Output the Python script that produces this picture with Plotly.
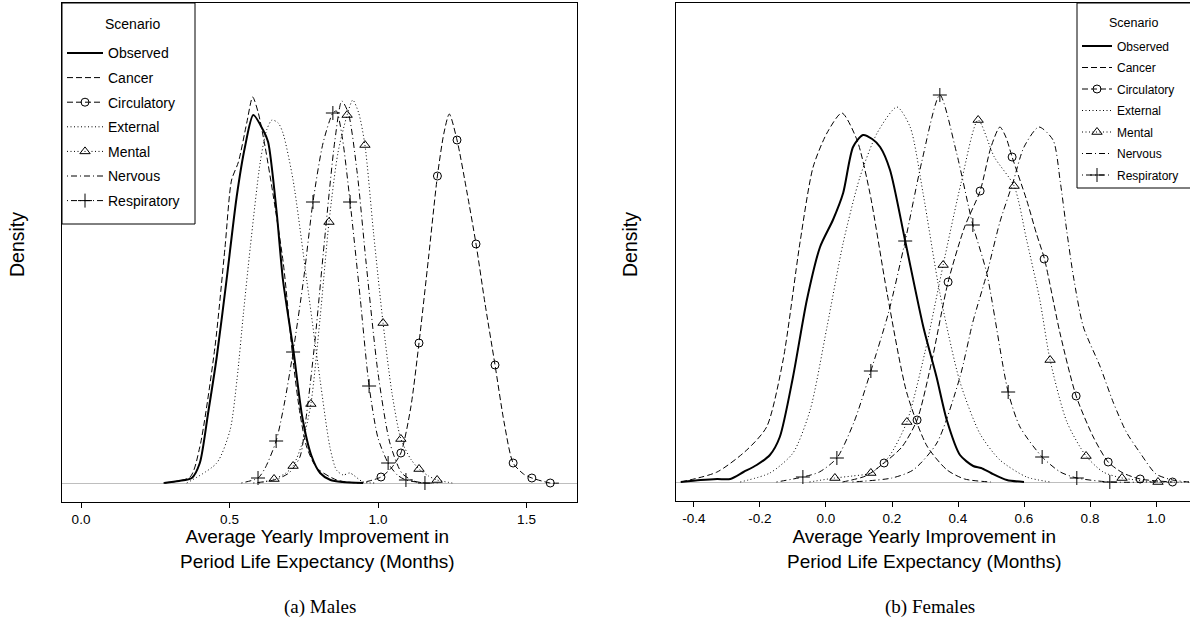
import plotly.graph_objects as go

# ---------------- DATA ----------------
scenarios = ["Observed", "Cancer", "Circulatory", "External", "Mental", "Nervous", "Respiratory"]
legend_title = "Scenario"

# Males
m_obs_x = [0.28, 0.33, 0.373, 0.40, 0.428, 0.457, 0.49, 0.524, 0.552, 0.58, 0.613, 0.63, 0.659, 0.68, 0.715, 0.745, 0.775, 0.805, 0.84, 0.88, 0.95]
m_obs_y = [0, .02, .05, .20, .70, 1.26, 2.03, 2.86, 3.36, 3.68, 3.53, 3.41, 2.70, 2.03, 1.33, .66, .28, .10, .03, .01, 0]
m_can_x = [0.277, 0.367, 0.40, 0.451, 0.485, 0.507, 0.53, 0.558, 0.578, 0.597, 0.62, 0.648, 0.681, 0.715, 0.737, 0.76, 0.794, 0.861, 0.928]
m_can_y = [0, .06, .36, 1.36, 2.36, 3.03, 3.21, 3.60, 3.86, 3.70, 3.36, 2.86, 2.20, 1.20, .70, .36, .15, .03, 0]
m_cir_x = [.93, .97, 1.01, 1.045, 1.077, 1.11, 1.138, 1.17, 1.2, 1.222, 1.24, 1.266, 1.3, 1.33, 1.36, 1.394, 1.425, 1.455, 1.49, 1.518, 1.58, 1.62]
m_cir_y = [0, .02, .06, .15, .30, .75, 1.40, 2.25, 3.07, 3.50, 3.69, 3.43, 2.90, 2.39, 1.80, 1.18, .60, .20, .09, .05, 0, 0]
m_cir_mx = [1.01, 1.077, 1.138, 1.2, 1.266, 1.33, 1.394, 1.455, 1.518, 1.58]
m_cir_my = [.06, .30, 1.40, 3.07, 3.43, 2.39, 1.18, .20, .05, 0]
m_ext_x = [0.356, 0.457, 0.502, 0.525, 0.547, 0.57, 0.603, 0.625, 0.643, 0.664, 0.68, 0.714, 0.76, 0.805, 0.838, 0.86, 0.883, 0.905, 0.95, 0.995]
m_ext_y = [0, .20, .53, 1.03, 1.70, 2.36, 3.20, 3.53, 3.63, 3.60, 3.50, 3.03, 2.03, 1.03, .36, .13, .08, .10, .01, 0]
m_men_x = [.6, .65, .69, .714, .745, .774, .805, .835, .865, .896, .915, .935, .956, .985, 1.017, 1.047, 1.077, 1.11, 1.138, 1.17, 1.199, 1.25]
m_men_y = [0, .04, .10, .17, .40, .79, 1.65, 2.61, 3.30, 3.68, 3.83, 3.70, 3.38, 2.50, 1.60, .90, .44, .24, .14, .07, .03, 0]
m_men_mx = [.65, .714, .774, .835, .896, .956, 1.017, 1.077, 1.138, 1.199]
m_men_my = [.04, .17, .79, 2.61, 3.68, 3.38, 1.60, .44, .14, .03]
m_ner_x = [.58, .65, .70, .737, .76, .788, .82, .855, .878, .90, .93, .96, 1.0, 1.04, 1.08, 1.12, 1.16]
m_ner_y = [0, .03, .10, .26, .70, 1.43, 2.43, 3.43, 3.82, 3.70, 3.10, 2.20, 1.10, .40, .10, .02, 0]
m_res_x = [.54, .596, .62, .657, .685, .714, .75, .781, .815, .848, .86, .88, .906, .94, .97, 1.0, 1.034, 1.065, 1.094, 1.158, 1.2]
m_res_y = [0, .05, .15, .42, .80, 1.31, 2.05, 2.81, 3.40, 3.70, 3.72, 3.45, 2.81, 1.85, .97, .45, .20, .08, .03, 0, 0]
m_res_mx = [.596, .657, .714, .781, .848, .906, .97, 1.034, 1.094, 1.158]
m_res_my = [.05, .42, 1.31, 2.81, 3.70, 2.81, .97, .20, .03, 0]

# Females
f_obs_x = [-0.44, -0.38, -0.33, -0.29, -0.25, -0.21, -0.17, -0.14, -0.1, -0.058, -0.018, 0.021, 0.052, 0.082, 0.112, 0.14, 0.164, 0.194, 0.24, 0.295, 0.335, 0.366, 0.406, 0.446, 0.47, 0.5, 0.548, 0.6]
f_obs_y = [0, .02, .03, .03, .10, .17, .27, .45, 1.05, 1.82, 2.35, 2.62, 2.89, 3.35, 3.47, 3.43, 3.35, 3.12, 2.41, 1.55, 1.05, .62, .27, .16, .14, .09, .02, 0]
f_can_x = [-0.44, -0.33, -0.24, -0.18, -0.13, -0.079, -0.039, 0.003, 0.048, 0.094, 0.133, 0.185, 0.245, 0.306, 0.367, 0.42, 0.5]
f_can_y = [0, .10, .32, .55, 1.22, 2.39, 3.15, 3.49, 3.69, 3.42, 2.89, 1.89, .89, .36, .12, .03, 0]
f_cir_x = [.05, .12, .176, .23, .276, .32, .37, .42, .467, .5, .527, .545, .564, .608, .638, .662, .709, .758, .81, .855, .9, .952, 1.05]
f_cir_y = [0, .06, .19, .35, .62, 1.20, 2.00, 2.55, 2.91, 3.35, 3.55, 3.45, 3.25, 2.82, 2.48, 2.23, 1.49, .86, .45, .20, .09, .03, 0]
f_cir_mx = [.176, .276, .37, .467, .564, .661, .758, .855, .952, 1.05]
f_cir_my = [.19, .62, 2.00, 2.91, 3.25, 2.23, .86, .20, .03, 0]
f_ext_x = [-0.26, -0.17, -0.1, -0.048, 0.003, 0.052, 0.103, 0.155, 0.215, 0.255, 0.294, 0.345, 0.406, 0.467, 0.527, 0.608, 0.68]
f_ext_y = [0, .09, .29, .72, 1.55, 2.39, 3.05, 3.49, 3.75, 3.55, 2.89, 1.89, 1.00, .48, .22, .05, 0]
f_men_x = [-0.05, .027, .08, .136, .19, .245, .3, .355, .41, .461, .51, .57, .608, .648, .679, .73, .788, .84, .897, 1.006, 1.1]
f_men_y = [0, .04, .06, .09, .25, .60, 1.30, 2.17, 3.00, 3.62, 3.25, 2.96, 2.42, 1.82, 1.22, .60, .26, .10, .04, 0, 0]
f_men_mx = [.027, .136, .245, .355, .461, .57, .679, .788, .897, 1.006]
f_men_my = [.04, .09, .60, 2.17, 3.62, 2.96, 1.22, .26, .04, 0]
f_ner_x = [.08, .2, .264, .336, .406, .445, .488, .527, .567, .6, .645, .688, .71, .73, .75, .78, .83, .87, .91, .952, 1.0, 1.05, 1.1]
f_ner_y = [0, .04, .12, .39, 1.05, 1.60, 2.09, 2.60, 3.00, 3.35, 3.55, 3.42, 3.00, 2.50, 2.05, 1.55, 1.16, .80, .50, .29, .08, .02, 0]
f_res_x = [-0.15, -0.07, -0.02, .033, .085, .136, .19, .24, .29, .345, .395, .445, .487, .552, .588, .655, .71, .76, .86, 1.0]
f_res_y = [0, .05, .10, .24, .60, 1.11, 1.70, 2.41, 3.20, 3.87, 3.30, 2.57, 2.09, .90, .55, .25, .10, .04, 0, 0]
f_res_mx = [-0.07, .033, .136, .24, .345, .445, .552, .655, .76, .86]
f_res_my = [.05, .24, 1.11, 2.41, 3.87, 2.57, .90, .25, .04, 0]

m_ticks = [0.0, 0.5, 1.0, 1.5]
m_ticktext = ["0.0", "0.5", "1.0", "1.5"]
f_ticks = [-0.4, -0.2, 0.0, 0.2, 0.4, 0.6, 0.8, 1.0]
f_ticktext = ["-0.4", "-0.2", "0.0", "0.2", "0.4", "0.6", "0.8", "1.0"]

# ---------------- STYLE ----------------
W, H = 1190, 633
SANS = "Liberation Sans, Arial, sans-serif"
SERIF = "Liberation Serif, Times New Roman, serif"
DASHED = "6px,3px"
DOTTED = "1px,2.5px"
DOTDASH = "1px,3px,6px,3px"

style = {
    "Observed":    dict(dash="solid", width=2, symbol=None, size=0),
    "Cancer":      dict(dash=DASHED, width=1, symbol=None, size=0),
    "Circulatory": dict(dash=DASHED, width=1, symbol="circle-open", size=8),
    "External":    dict(dash=DOTTED, width=1, symbol=None, size=0),
    "Mental":      dict(dash=DOTTED, width=1, symbol="triangle-up-open", size=9),
    "Nervous":     dict(dash=DOTDASH, width=1, symbol=None, size=0),
    "Respiratory": dict(dash=DOTDASH, width=1, symbol="cross-thin-open", size=10),
}

males = {
    "Observed": (m_obs_x, m_obs_y, None, None),
    "Cancer": (m_can_x, m_can_y, None, None),
    "Circulatory": (m_cir_x, m_cir_y, m_cir_mx, m_cir_my),
    "External": (m_ext_x, m_ext_y, None, None),
    "Mental": (m_men_x, m_men_y, m_men_mx, m_men_my),
    "Nervous": (m_ner_x, m_ner_y, None, None),
    "Respiratory": (m_res_x, m_res_y, m_res_mx, m_res_my),
}
females = {
    "Observed": (f_obs_x, f_obs_y, None, None),
    "Cancer": (f_can_x, f_can_y, None, None),
    "Circulatory": (f_cir_x, f_cir_y, f_cir_mx, f_cir_my),
    "External": (f_ext_x, f_ext_y, None, None),
    "Mental": (f_men_x, f_men_y, f_men_mx, f_men_my),
    "Nervous": (f_ner_x, f_ner_y, None, None),
    "Respiratory": (f_res_x, f_res_y, f_res_mx, f_res_my),
}

fig = go.Figure()

def add_panel(data, xa, ya, legend_name):
    for name in scenarios:
        lx, ly, mx, my = data[name]
        st = style[name]
        fig.add_trace(go.Scatter(
            x=lx, y=ly, mode="lines", xaxis=xa, yaxis=ya, showlegend=False,
            line=dict(color="black", width=st["width"], dash=st["dash"], shape="spline", smoothing=0.7),
            hoverinfo="skip"))
        if mx is not None:
            fig.add_trace(go.Scatter(
                x=mx, y=my, mode="markers", xaxis=xa, yaxis=ya, showlegend=False,
                marker=dict(symbol=st["symbol"], size=st["size"], color="black",
                            line=dict(color="black", width=1)),
                hoverinfo="skip"))
        # legend entry
        mode = "lines+markers" if st["symbol"] else "lines"
        kw = {}
        if st["symbol"]:
            kw["marker"] = dict(symbol=st["symbol"], size=st["size"], color="black",
                                line=dict(color="black", width=1))
        fig.add_trace(go.Scatter(
            x=[None], y=[None], mode=mode, xaxis=xa, yaxis=ya, name=name,
            legend=legend_name, legendgroup=legend_name + name,
            line=dict(color="black", width=st["width"], dash=st["dash"]), **kw))

add_panel(males, "x", "y", "legend")
add_panel(females, "x2", "y2", "legend2")

def px(x): return x / W
def py(y): return 1 - y / H

axis_common = dict(showgrid=False, showline=True, linecolor="black", linewidth=1,
                   ticks="outside", ticklen=5, tickcolor="black", tickwidth=1,
                   tickfont=dict(family=SANS, size=13.5, color="black"))

fig.update_layout(
    width=W, height=H, margin=dict(l=0, r=0, t=0, b=0),
    paper_bgcolor="white", plot_bgcolor="white",
    xaxis=dict(domain=[px(62), px(577)], range=[-0.064, 1.670], tickvals=m_ticks, ticktext=m_ticktext,
               mirror=True, zeroline=False, anchor="y", **axis_common),
    yaxis=dict(domain=[py(502), py(3)], range=[-0.19, 4.80], showticklabels=False, ticks="",
               showgrid=False, showline=True, linecolor="black", mirror=True,
               zeroline=True, zerolinecolor="#bebebe", zerolinewidth=1, anchor="x"),
    xaxis2=dict(domain=[px(676), 1.0], range=[-0.4545, 1.103], tickvals=f_ticks, ticktext=f_ticktext,
                mirror=True, zeroline=False, anchor="y2", **axis_common),
    yaxis2=dict(domain=[py(501), py(3)], range=[-0.19, 4.79], showticklabels=False, ticks="",
                showgrid=False, showline=True, linecolor="black", mirror=False,
                zeroline=True, zerolinecolor="#bebebe", zerolinewidth=1, anchor="x2"),
    legend=dict(x=px(62), y=py(37.4), xanchor="left", yanchor="top", bgcolor="rgba(0,0,0,0)",
                borderwidth=0, traceorder="grouped", tracegroupgap=3.4, itemwidth=36,
                font=dict(family=SANS, size=14, color="black")),
    legend2=dict(x=px(1077), y=py(31.5), xanchor="left", yanchor="top", bgcolor="rgba(0,0,0,0)",
                 borderwidth=0, traceorder="grouped", tracegroupgap=2.5,
                 font=dict(family=SANS, size=12, color="black")),
)

# legend frames
fig.add_shape(type="rect", xref="paper", yref="paper", x0=px(62), x1=px(195), y0=py(224), y1=py(3),
              line=dict(color="black", width=1), fillcolor="white", layer="above")
fig.add_shape(type="rect", xref="paper", yref="paper", x0=px(1077), x1=px(1200), y0=py(188), y1=py(3),
              line=dict(color="black", width=1), fillcolor="white", layer="above")

title_text = "Average Yearly Improvement in<br>Period Life Expectancy (Months)"
annots = [
    dict(text=legend_title, x=px(132), y=py(24), font=dict(family=SANS, size=14)),
    dict(text=legend_title, x=px(1133), y=py(23), font=dict(family=SANS, size=12.5)),
    dict(text="Density", x=px(17), y=py(245), textangle=-90, font=dict(family=SANS, size=19.5)),
    dict(text="Density", x=px(630), y=py(245), textangle=-90, font=dict(family=SANS, size=19.5)),
    dict(text=title_text, x=px(317), y=py(549), font=dict(family=SANS, size=19)),
    dict(text=title_text, x=px(924), y=py(549), font=dict(family=SANS, size=19)),
    dict(text="(a) Males", x=px(320), y=py(607), font=dict(family=SERIF, size=19)),
    dict(text="(b) Females", x=px(930), y=py(607), font=dict(family=SERIF, size=19)),
]
for a in annots:
    fig.add_annotation(xref="paper", yref="paper", showarrow=False, xanchor="center", yanchor="middle",
                       **a)
for a in fig.layout.annotations:
    a.font.color = "black"

fig.write_html("out.html")
